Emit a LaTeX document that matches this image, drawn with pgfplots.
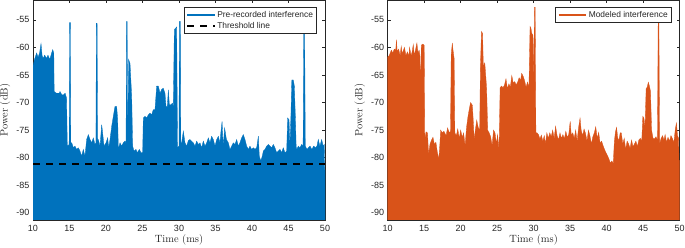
\documentclass[border=0pt]{standalone}
\usepackage{fontspec}
\usepackage{pgfplots}
\pgfplotsset{compat=1.18}
\newfontfamily\arial{Liberation Sans}
\definecolor{mblue}{rgb}{0,0.447,0.741}
\definecolor{morange}{rgb}{0.85,0.325,0.098}
\definecolor{axgray}{rgb}{0.15,0.15,0.15}

\pgfplotsset{mystyle/.style={
  scale only axis, width=292pt, height=220pt,
  xmin=10, xmax=50, ymin=-91.3, ymax=-51.4,
  xtick={10,15,...,50}, ytick={-90,-85,...,-55},
  tick align=inside, xtick pos=both, ytick pos=both,
  xticklabel pos=lower, yticklabel pos=left,
  major tick length=3pt,
  axis line style={axgray, line width=0.5pt},
  every tick/.style={axgray, line width=0.5pt},
  tick label style={font=\fontsize{9}{10}\arial, text=axgray},
  xticklabel style={yshift=-2pt},
  /pgf/number format/assume math mode=true,
  xlabel={Time (ms)}, ylabel={Power (dB)},
  label style={font=\fontsize{10.5}{12}\selectfont, text=axgray},
  xlabel style={at={(axis description cs:0.5,-0.091)}, anchor=center},
  ylabel style={at={(axis description cs:-0.096,0.5)}, anchor=center},
  legend style={font=\fontsize{8.4}{10}\arial, draw=axgray, line width=0.4pt,
    at={(1,1)}, anchor=north east, xshift=-8.3pt, yshift=-7.3pt,
    inner sep=2pt, row sep=0pt, cells={anchor=west}, text=axgray,
    nodes={text height=6.2pt, text depth=1.8pt, inner sep=1.5pt}},
  legend image code/.code={\draw[#1] (0pt,0pt) -- (27.7pt,0pt);},
}}

\begin{document}
\begin{tikzpicture}
\begin{axis}[mystyle, at={(0pt,0pt)}, anchor=south west]
\addplot[fill=mblue, draw=mblue, line width=0.3pt, forget plot] coordinates {
(10,-95) (10,-63.4) (10.2,-62.2) (10.5,-61) (10.7,-61.8) (10.9,-61) (11.1,-59.3) (11.25,-61.5) (11.4,-62) (11.6,-61.4) (11.85,-62) (12.05,-61.4) (12.3,-62.2) (12.55,-61) (12.7,-60.4) (12.85,-61) (12.9,-68) (13.2,-68.3) (13.6,-68.3) (13.7,-68) (13.95,-68.6) (14.2,-68.6) (14.4,-68.3) (14.6,-69.2) (14.7,-77.9) (14.95,-77.6) (15.02,-55.5) (15.12,-55.5) (15.18,-77.3) (15.3,-77.3) (15.53,-78.2) (15.75,-77.9) (15.98,-78.5) (16.21,-78.2) (16.44,-78.8) (16.67,-79.7) (16.89,-78.5) (17.12,-79.7) (17.35,-76.7) (17.58,-75.8) (17.81,-76.7) (18.04,-77.3) (18.26,-76.4) (18.49,-77.6) (18.62,-77.3) (18.68,-55.6) (18.78,-55.6) (18.85,-76.7) (18.95,-76.7) (19.18,-77.9) (19.41,-74.0) (19.54,-75.5) (19.73,-77.9) (20.0,-77.3) (20.23,-76.4) (20.37,-78.2) (20.55,-76.7) (20.78,-74.3) (21.0,-72.5) (21.23,-70.7) (21.46,-70.7) (21.6,-73.1) (21.69,-78.5) (21.92,-77.3) (22.15,-77.9) (22.37,-77.3) (22.6,-77.0) (22.75,-77.3) (22.8,-55.3) (22.9,-55.3) (22.97,-77.3) (23.1,-62.2) (23.29,-62.9) (23.52,-68.9) (23.65,-77.9) (23.84,-78.8) (24.11,-78.5) (24.29,-79.1) (24.57,-78.5) (24.79,-79.1) (25.02,-79.1) (25.11,-72.8) (25.34,-72.5) (25.57,-72.8) (25.8,-72.2) (26.03,-71.9) (26.26,-72.2) (26.48,-71.3) (26.71,-71.3) (26.94,-67.0) (27.17,-67.0) (27.4,-68.3) (27.63,-67.6) (27.85,-67.4) (28.08,-68.3) (28.22,-70.7) (28.4,-70.7) (28.54,-67.7) (28.68,-70.4) (28.9,-70.4) (29.09,-70.1) (29.22,-70.7) (29.36,-56.8) (29.54,-56.5) (29.68,-56.3) (29.8,-78.2) (30.0,-77.9) (30.05,-55.3) (30.2,-55.3) (30.25,-77.3) (30.36,-77.3) (30.59,-75.2) (30.82,-77.3) (31.05,-77.9) (31.28,-76.9) (31.5,-76.7) (31.73,-77.0) (31.96,-77.3) (32.19,-77.9) (32.42,-77.0) (32.65,-77.6) (32.87,-77.3) (33.1,-78.2) (33.33,-77.0) (33.56,-77.9) (33.79,-77.3) (34.02,-76.4) (34.24,-77.3) (34.47,-76.1) (34.7,-76.7) (34.93,-77.9) (35.16,-76.7) (35.39,-76.1) (35.61,-77.3) (35.75,-75.2) (35.9,-73.4) (36.05,-78.0) (36.25,-74.6) (36.5,-76.7) (36.76,-77.3) (36.98,-78.5) (37.21,-77.9) (37.44,-77.3) (37.67,-77.6) (37.9,-76.7) (38.13,-77.9) (38.35,-77.3) (38.58,-76.4) (38.81,-75.8) (39.04,-76.7) (39.27,-77.9) (39.5,-78.5) (39.72,-77.9) (39.95,-78.5) (40.18,-78.2) (40.41,-78.5) (40.64,-78.2) (40.87,-76.1) (41.0,-79.7) (41.2,-80.6) (41.41,-79.7) (41.55,-78.8) (41.78,-78.5) (42.01,-77.9) (42.24,-77.6) (42.46,-77.9) (42.69,-78.2) (42.92,-77.6) (43.15,-78.2) (43.38,-79.1) (43.61,-78.8) (43.83,-78.5) (44.06,-79.1) (44.29,-78.2) (44.52,-79.1) (44.75,-78.8) (44.88,-72.8) (45.07,-73.1) (45.2,-77.9) (45.34,-72.0) (45.45,-65.9) (45.66,-65.9) (45.8,-67.0) (45.95,-73.0) (46.05,-78.0) (46.12,-78.5) (46.35,-77.9) (46.57,-78.2) (46.8,-77.6) (47.0,-77.9) (47.1,-54.5) (47.2,-54.5) (47.3,-77.9) (47.53,-78.5) (47.71,-78.2) (47.95,-77.9) (48.2,-78.5) (48.45,-77.9) (48.7,-78.2) (48.9,-77.9) (49.08,-76.7) (49.3,-77.9) (49.54,-76.7) (49.75,-77.9) (49.9,-77.6) (49.95,-82.2) (50,-82.2) (50,-95)
};
\addlegendimage{mblue, line width=2pt}
\addlegendentry{Pre-recorded interference}
\addplot[black, line width=1.8pt, dash pattern=on 6.5pt off 6.5pt] coordinates {(10,-81.2) (50,-81.2)};
\addlegendentry{Threshold line}
\end{axis}

\begin{axis}[mystyle, at={(354.7pt,0pt)}, anchor=south west]
\addplot[fill=morange, draw=morange, line width=0.3pt, forget plot] coordinates {
(10,-95) (10,-61.7) (10.2,-61.5) (10.35,-61) (10.5,-60.5) (10.7,-61) (10.9,-60.3) (11.1,-60.5) (11.2,-58.6) (11.3,-60.8) (11.5,-60.3) (11.7,-61.5) (11.85,-59.8) (12.0,-61.2) (12.15,-60.5) (12.3,-60) (12.5,-61.5) (12.7,-60.8) (12.9,-61.6) (13.0,-60) (13.2,-61.5) (13.35,-60.8) (13.5,-59.5) (13.65,-61.5) (13.8,-60.5) (14.0,-59.2) (14.15,-61) (14.3,-60.5) (14.4,-61.4) (14.45,-64) (14.55,-64) (14.6,-59.6) (14.8,-59.4) (15.0,-59.6) (15.08,-76.7) (15.25,-75.3) (15.45,-75.5) (15.6,-79.4) (15.8,-77.5) (16.0,-76.8) (16.2,-76.3) (16.4,-77.6) (16.6,-77.2) (16.8,-79) (17.0,-80.3) (17.15,-77.5) (17.25,-75) (17.5,-75.5) (17.7,-75.2) (18.0,-76) (18.2,-74.6) (18.45,-75.5) (18.6,-75.2) (18.7,-61.3) (18.85,-59.2) (18.95,-60.5) (19.1,-62) (19.2,-75.5) (19.4,-76) (19.6,-74.8) (19.8,-76.5) (20.0,-75) (20.2,-76.3) (20.4,-75.5) (20.6,-77.8) (20.8,-74.5) (21.0,-72.5) (21.2,-71) (21.35,-70) (21.6,-70.5) (21.75,-74) (21.85,-77) (22.0,-75) (22.2,-73.2) (22.4,-74.5) (22.6,-75) (22.7,-63.4) (22.85,-57.1) (23.0,-57.5) (23.1,-63.5) (23.3,-62.8) (23.45,-65.5) (23.55,-67.5) (23.7,-75) (23.9,-75.5) (24.1,-76.2) (24.3,-77.8) (24.5,-75) (24.7,-75.5) (24.9,-77.5) (25.05,-75.8) (25.25,-78.5) (25.4,-67.3) (25.6,-67) (25.8,-67.3) (26.0,-66.8) (26.2,-65.7) (26.4,-67.5) (26.6,-66.6) (26.8,-67.2) (27.0,-65.1) (27.2,-66.5) (27.4,-66.2) (27.6,-66.8) (27.8,-66.3) (28.0,-65.5) (28.2,-66) (28.35,-64.7) (28.55,-65.2) (28.75,-66) (28.95,-67.2) (29.15,-66.3) (29.35,-67.2) (29.5,-56.2) (29.62,-56.5) (29.72,-57.4) (29.9,-57.8) (30.0,-67) (30.1,-52.7) (30.2,-52.7) (30.3,-75.5) (30.45,-75.5) (30.65,-75.8) (30.85,-76.6) (31.05,-75.9) (31.25,-77) (31.45,-76) (31.6,-77.5) (31.8,-75.5) (32.0,-76.5) (32.2,-75.5) (32.4,-76.2) (32.6,-75) (32.8,-76.5) (33.0,-74.3) (33.2,-76) (33.4,-76.8) (33.6,-75.5) (33.8,-76.5) (34.0,-75.8) (34.2,-76.6) (34.4,-75.2) (34.6,-76.3) (34.8,-75.8) (35.0,-73.4) (35.15,-76) (35.35,-75.5) (35.55,-76.5) (35.75,-75) (35.95,-77) (36.15,-74.5) (36.35,-72.8) (36.5,-75) (36.7,-76) (36.9,-74.8) (37.1,-75.6) (37.3,-77) (37.5,-75) (37.7,-76) (37.9,-77.5) (38.1,-76.2) (38.3,-75.5) (38.5,-74.4) (38.7,-76.5) (38.9,-75.4) (39.1,-77.4) (39.3,-77) (39.5,-77.8) (39.7,-78.5) (39.9,-79.1) (40.1,-79.6) (40.3,-80.2) (40.5,-81) (40.7,-80.6) (40.9,-81) (41.05,-77) (41.2,-75.3) (41.35,-74.5) (41.5,-76.3) (41.65,-77) (41.85,-75.5) (42.0,-75.5) (42.2,-77.5) (42.4,-76.5) (42.6,-78.5) (42.8,-77) (43.0,-77.5) (43.2,-78.3) (43.4,-76.8) (43.6,-78) (43.8,-77.5) (44.0,-77) (44.2,-78) (44.4,-76.8) (44.6,-76.5) (44.8,-77) (44.95,-72.5) (45.1,-72.8) (45.25,-74.5) (45.4,-67.5) (45.55,-67.2) (45.7,-66.3) (45.85,-67) (46.0,-68) (46.15,-75) (46.35,-76.5) (46.55,-76.6) (46.75,-76.2) (46.95,-76.8) (47.05,-55.5) (47.15,-55.5) (47.25,-77.5) (47.45,-76.5) (47.65,-76) (47.85,-76.8) (48.0,-75.8) (48.2,-77.2) (48.4,-76.3) (48.6,-77) (48.8,-76) (49.0,-76.5) (49.2,-77.3) (49.4,-74.8) (49.55,-73.7) (49.7,-76) (49.85,-76.5) (49.9,-80.5) (50,-80.5) (50,-95)
};
\addlegendimage{morange, line width=2pt}
\addlegendentry{Modeled interference}
\end{axis}
\pgfresetboundingbox
\useasboundingbox (-33pt,-28pt) rectangle (652pt,220pt);
\end{tikzpicture}
\end{document}
